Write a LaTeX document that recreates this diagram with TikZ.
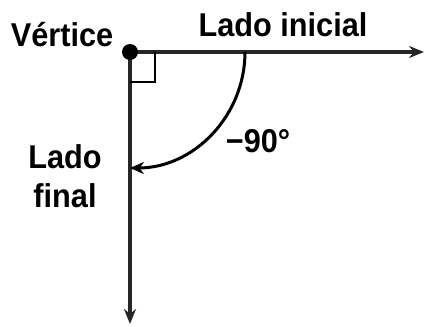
\documentclass[tikz,border=0pt]{standalone}
\usepackage{fontspec}
\setmainfont{Liberation Sans}[FakeStretch=0.93]
\usetikzlibrary{arrows.meta}
\begin{document}
\begin{tikzpicture}[x=1pt,y=-1pt,
  lbl/.style={font=\fontsize{33}{35}\selectfont\bfseries, inner sep=0pt, text=black},
  ray/.style={line width=3.2pt, draw=black!85, -{Stealth[length=15pt,width=12pt]}},
  arcarrow/.style={line width=3pt, -{Stealth[length=14pt,width=12pt]}}]
\useasboundingbox (0,0) rectangle (427,326);
\coordinate (v) at (130,52);
\coordinate (h) at (424,52);
\coordinate (d) at (130,324);
\draw[ray] (v) -- (h);
\draw[ray] (v) -- (d);
\draw[line width=2.6pt] (130,82) -- (155,82) -- (155,52);
\draw[arcarrow] (245,52) arc[start angle=0, end angle=-90, x radius=115, y radius=-116];
\fill (v) circle (8);
\node[lbl, anchor=base] (vert) at (62,47) {Vértice};
\node[lbl, anchor=base] (li) at (283,37) {Lado inicial};
\node[lbl, anchor=base] (ang) at (258,152) {−90°};
\node[lbl, anchor=base] (lf1) at (65,168) {Lado};
\node[lbl, anchor=base] (lf2) at (65,207) {final};
\end{tikzpicture}
\end{document}
